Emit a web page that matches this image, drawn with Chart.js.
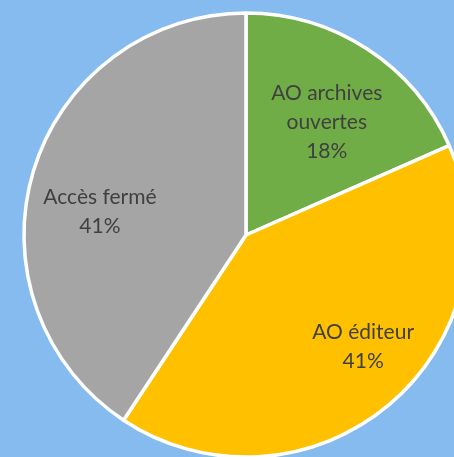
<!DOCTYPE html>
<html>
<head>
<meta charset="utf-8">
<script src="https://cdn.jsdelivr.net/npm/chart.js@4/dist/chart.umd.min.js"></script>
<style>
  html, body { margin: 0; padding: 0; overflow: hidden; background: #86BBEF; width: 454px; height: 457px; }
  #wrap { position: absolute; left: 0; top: 0; width: 492px; height: 470px; }
</style>
</head>
<body>
<div id="wrap"><canvas id="c" width="492" height="470"></canvas></div>
<script>
const categories = ["AO archives ouvertes", "AO éditeur", "Accès fermé"];
const labelLines = [["AO archives", "ouvertes"], ["AO éditeur"], ["Accès fermé"]];
const shares = [18.4, 40.9, 40.7];
const colors = ["#70AD47", "#FFC000", "#A5A5A5"];

// label placement: radial fraction and angle tweak (degrees) per slice
const labelPlace = [
  { frac: 0.623, dAng: 2.6 },
  { frac: 0.728, dAng: -6.3 },
  { frac: 0.666, dAng: -7.8 }
];

const pieLabels = {
  id: 'pieLabels',
  afterDatasetsDraw(chart) {
    const meta = chart.getDatasetMeta(0);
    const ctx = chart.ctx;
    const data = chart.data.datasets[0].data;
    const total = data.reduce((a, b) => a + b, 0);
    ctx.save();
    ctx.fillStyle = '#404040';
    ctx.font = '21px Lato';
    ctx.textAlign = 'center';
    ctx.textBaseline = 'middle';
    const lh = 29;
    meta.data.forEach((arc, i) => {
      const p = arc.getProps(['x', 'y', 'startAngle', 'endAngle', 'outerRadius'], true);
      const mid = (p.startAngle + p.endAngle) / 2 + labelPlace[i].dAng * Math.PI / 180;
      const r = p.outerRadius * labelPlace[i].frac;
      const cx = p.x + Math.cos(mid) * r;
      const cy = p.y + Math.sin(mid) * r;
      const lines = labelLines[i].concat([Math.round(data[i] / total * 100) + '%']);
      const y0 = cy - (lines.length - 1) * lh / 2;
      lines.forEach((t, k) => ctx.fillText(t, cx, y0 + k * lh));
    });
    ctx.restore();
  }
};

new Chart(document.getElementById('c'), {
  type: 'pie',
  data: {
    labels: categories,
    datasets: [{
      data: shares,
      backgroundColor: colors,
      borderColor: '#FFFFFF',
      borderWidth: 3.5,
      radius: 222
    }]
  },
  options: {
    responsive: false,
    animation: false,
    layout: { padding: 0 },
    plugins: {
      legend: { display: false },
      tooltip: { enabled: false }
    }
  },
  plugins: [pieLabels]
});
</script>
</body>
</html>
